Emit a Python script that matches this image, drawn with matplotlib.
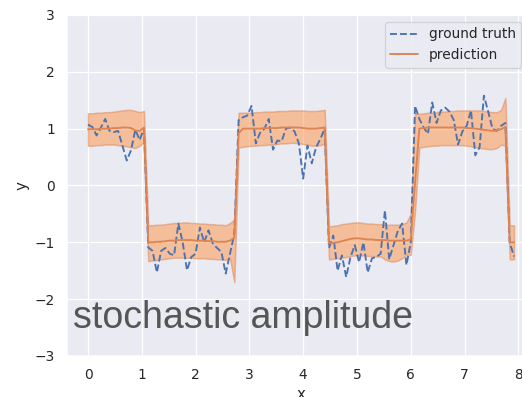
import numpy as np
import matplotlib
matplotlib.use("Agg")
import matplotlib.pyplot as plt
import seaborn as sns

# sample positions
x = np.arange(100) * 0.08

# noisy square-wave target
truth = [
    1.07, 1.03, 0.88, 1.02, 1.17, 0.96, 0.94, 0.96, 0.70, 0.44, 0.62, 0.98, 0.80, 1.00,
    -1.09, -1.15, -1.53, -1.15, -1.10, -1.20, -1.23, -0.67, -1.00, -1.49, -1.26, -1.20,
    -0.74, -1.00, -0.79, -1.02, -1.10, -1.17, -1.55, -1.20, -0.85,
    1.15, 1.20, 1.23, 1.40, 0.74, 0.93, 1.00, 1.17, 0.63, 0.79, 0.78, 1.00, 1.02, 0.95,
    0.74, 0.12, 0.70, 0.39, 0.67, 0.82, 1.00,
    -1.10, -0.88, -1.50, -1.23, -1.61, -1.26, -1.05, -1.35, -1.00, -1.53, -1.28, -1.26,
    -1.20, -0.44, -1.30, -1.05, -0.80, -0.67, -1.40, -1.00,
    1.40, 1.17, 1.02, 0.91, 1.46, 1.10, 1.32, 1.37, 1.30, 1.15, 0.72, 0.95, 1.05, 1.32,
    0.53, 0.67, 1.58, 1.30, 1.00, 0.96, 1.05, 1.10,
    -1.00, -1.25,
]

# model mean prediction
pred_mean = [
    0.99, 0.99, 0.99, 1.00, 1.00, 1.00, 1.01, 1.01, 1.02, 1.02, 1.01, 0.97, 0.96, 1.02,
    -1.00, -1.00, -0.99, -0.99, -0.98, -0.97, -0.97, -0.96, -0.96, -0.96, -0.96, -0.97,
    -0.97, -0.97, -0.98, -0.98, -0.99, -0.99, -0.99, -0.97, -0.92,
    0.92, 1.00, 1.00, 1.00, 1.00, 1.00, 1.01, 1.01, 1.01, 1.01, 1.02, 1.02, 1.02, 1.02,
    1.02, 1.01, 1.00, 1.00, 1.00, 1.01, 1.02,
    -1.02, -1.01, -1.00, -0.98, -0.96, -0.94, -0.93, -0.93, -0.94, -0.95, -0.95, -0.96,
    -0.96, -0.96, -0.97, -0.97, -0.97, -0.97, -0.97, -0.95,
    0.05, 1.00, 1.01, 1.02, 1.02, 1.02, 1.02, 1.02, 1.02, 1.02, 1.02, 1.02, 1.01, 1.01,
    1.00, 0.99, 0.98, 0.97, 0.96, 0.97, 0.99, 1.03,
    -1.00, -1.00,
]

# upper edge of the uncertainty band
pred_upper = [
    1.27, 1.27, 1.28, 1.28, 1.29, 1.29, 1.30, 1.31, 1.32, 1.33, 1.33, 1.31, 1.29, 1.31,
    -0.70, -0.70, -0.69, -0.69, -0.68, -0.67, -0.66, -0.66, -0.65, -0.65, -0.66, -0.66,
    -0.67, -0.67, -0.68, -0.68, -0.69, -0.69, -0.70, -0.66, -0.60,
    1.28, 1.28, 1.28, 1.28, 1.29, 1.29, 1.30, 1.30, 1.30, 1.31, 1.31, 1.31, 1.32, 1.32,
    1.32, 1.32, 1.31, 1.31, 1.31, 1.32, 1.33,
    -0.72, -0.71, -0.70, -0.68, -0.67, -0.66, -0.65, -0.65, -0.66, -0.67, -0.67, -0.68,
    -0.68, -0.69, -0.69, -0.69, -0.69, -0.68, -0.65, -0.50,
    1.26, 1.26, 1.27, 1.28, 1.28, 1.29, 1.30, 1.30, 1.31, 1.31, 1.32, 1.32, 1.32, 1.32,
    1.32, 1.32, 1.31, 1.30, 1.29, 1.29, 1.33, 1.54,
    -0.70, -0.70,
]

# lower edge of the uncertainty band
pred_lower = [
    0.70, 0.70, 0.71, 0.71, 0.72, 0.72, 0.72, 0.71, 0.70, 0.69, 0.67, 0.66, 0.70, 0.76,
    -1.33, -1.32, -1.31, -1.30, -1.29, -1.28, -1.27, -1.27, -1.27, -1.27, -1.27, -1.28,
    -1.28, -1.28, -1.29, -1.29, -1.30, -1.30, -1.31, -1.28, -1.70,
    0.67, 0.68, 0.69, 0.70, 0.70, 0.71, 0.71, 0.72, 0.72, 0.73, 0.74, 0.74, 0.75, 0.75,
    0.74, 0.73, 0.72, 0.70, 0.70, 0.71, 0.74,
    -1.30, -1.29, -1.28, -1.27, -1.26, -1.24, -1.23, -1.23, -1.23, -1.24, -1.24, -1.25,
    -1.25, -1.30, -1.33, -1.34, -1.32, -1.28, -1.22, -1.22,
    -0.45, 0.67, 0.68, 0.69, 0.70, 0.70, 0.71, 0.71, 0.71, 0.71, 0.71, 0.71, 0.70, 0.69,
    0.68, 0.66, 0.65, 0.64, 0.64, 0.66, 0.72, 0.70,
    -1.30, -1.30,
]

x_ticks = [0, 1, 2, 3, 4, 5, 6, 7, 8]
y_ticks = [-3, -2, -1, 0, 1, 2, 3]
title_text = "stochastic amplitude"

sns.set_theme(style="darkgrid", context="notebook")
blue, orange = sns.color_palette()[0], sns.color_palette()[1]
band_face = "#FF9446"

fig = plt.figure(figsize=(5.8, 397 / 90), dpi=90)
ax = fig.add_axes([0.1278, 0.1033, 0.8977, 0.859])

ax.fill_between(x, pred_lower, pred_upper, facecolor=band_face, alpha=0.5,
                edgecolor=orange, linewidth=1.2)
ax.plot(x, truth, "--", color=blue, label="ground truth")
ax.plot(x, pred_mean, "-", color=orange, label="prediction")

ax.set_ylim(-3, 3)
ax.set_xticks(x_ticks)
ax.set_yticks(y_ticks)
ax.set_xlabel("x")
ax.set_ylabel("y")
ax.legend(loc="upper right", bbox_to_anchor=(0.985, 1.0))

ax.text(0.013, 0.082, title_text, transform=ax.transAxes,
        fontsize=30, family="Liberation Sans", color="#555555",
        ha="left", va="baseline", zorder=5)

fig.savefig("out.png", dpi=90)
